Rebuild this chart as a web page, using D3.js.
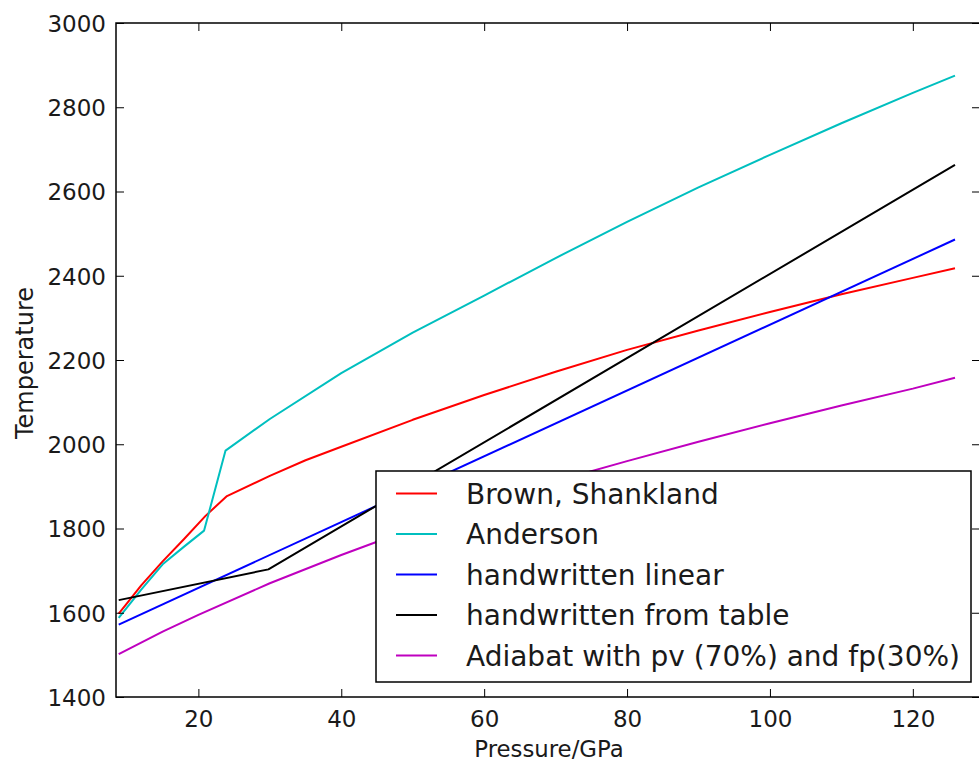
<!DOCTYPE html>
<html>
<head>
<meta charset="utf-8">
<script src="https://cdn.jsdelivr.net/npm/d3@7"></script>
<style>
  html, body { margin: 0; padding: 0; background: #fff; }
  svg { display: block; font-family: "DejaVu Sans", sans-serif; }
</style>
</head>
<body>
<svg id="chart" width="979" height="763"></svg>
<script>
// ---- data ----
const seriesNames = ["Brown, Shankland", "Anderson", "handwritten linear", "handwritten from table", "Adiabat with pv (70%) and fp(30%)"];
const seriesColors = ["#ff0000", "#00bfbf", "#0000ff", "#000000", "#bf00bf"];

const brownP = [8.85, 10, 12, 15, 18, 21, 24, 30, 35, 40, 50, 60, 70, 80, 90, 100, 110, 120, 125.9];
const brownT = [1598, 1622, 1665, 1722, 1775, 1830, 1877, 1925, 1962, 1994, 2058, 2117, 2172, 2224, 2270, 2314, 2356, 2395, 2418];

const andersonP = [8.85, 12, 15, 18, 20.8, 23.8, 30, 40, 50, 60, 70, 80, 90, 100, 110, 120, 125.9];
const andersonT = [1588, 1655, 1715, 1757, 1795, 1985, 2060, 2169, 2265, 2353, 2442, 2528, 2610, 2687, 2762, 2834, 2875];

const linearP = [8.85, 125.9];
const linearT = [1572, 2486];

const tableP = [8.85, 29.8, 125.9];
const tableT = [1630, 1703, 2663];

const adiabatP = [8.85, 15, 20, 30, 40, 50, 60, 70, 80, 90, 100, 110, 120, 125.9];
const adiabatT = [1502, 1555, 1595, 1670, 1737, 1800, 1858, 1912, 1960, 2006, 2050, 2092, 2132, 2158];

const xTicks = [20, 40, 60, 80, 100, 120];
const yTicks = [1400, 1600, 1800, 2000, 2200, 2400, 2600, 2800, 3000];
const xDomain = [8.47, 129.4];
const yDomain = [1400, 3000];
const xLabel = "Pressure/GPa";
const yLabel = "Temperature";

// ---- layout ----
const svg = d3.select("#chart");
const L = 116, R = 980, T = 23, B = 697;
const x = d3.scaleLinear().domain(xDomain).range([L, R]);
const y = d3.scaleLinear().domain(yDomain).range([B, T]);

svg.append("rect").attr("width", 979).attr("height", 763).attr("fill", "#fff");

const series = [
  { P: brownP, T: brownT },
  { P: andersonP, T: andersonT },
  { P: linearP, T: linearT },
  { P: tableP, T: tableT },
  { P: adiabatP, T: adiabatT }
];

svg.append("defs").append("clipPath").attr("id", "clip")
  .append("rect").attr("x", L).attr("y", T).attr("width", R - L).attr("height", B - T);

const line = d3.line().x(d => x(d[0])).y(d => y(d[1]));
const g = svg.append("g").attr("clip-path", "url(#clip)");
series.forEach((s, i) => {
  g.append("path")
    .datum(s.P.map((p, j) => [p, s.T[j]]))
    .attr("d", line)
    .attr("fill", "none")
    .attr("stroke", seriesColors[i])
    .attr("stroke-width", 2)
    .attr("stroke-linejoin", "round");
});

// axes (matplotlib classic: inward ticks on all sides)
const tickLen = 8;
const axB = svg.append("g").attr("transform", `translate(0,${B})`)
  .call(d3.axisBottom(x).tickValues(xTicks).tickSize(-tickLen).tickPadding(12).tickFormat(d3.format("d")));
const axT = svg.append("g").attr("transform", `translate(0,${T})`)
  .call(d3.axisTop(x).tickValues(xTicks).tickSize(-tickLen).tickFormat(""));
const axL = svg.append("g").attr("transform", `translate(${L},0)`)
  .call(d3.axisLeft(y).tickValues(yTicks).tickSize(-tickLen).tickPadding(10).tickFormat(d3.format("d")));
const axR = svg.append("g").attr("transform", `translate(${R},0)`)
  .call(d3.axisRight(y).tickValues(yTicks).tickSize(-tickLen).tickFormat(""));

[axB, axT, axL, axR].forEach(a => {
  a.select(".domain").remove();
  a.selectAll(".tick line").attr("stroke", "#000").attr("stroke-width", 1);
  a.selectAll(".tick text").attr("fill", "#1a1a1a").style("font-size", "23px").style("font-family", "DejaVu Sans");
});
axB.selectAll(".tick text").attr("dy", "0.78em");
axL.selectAll(".tick text").attr("dy", "0.36em");

// frame
svg.append("rect").attr("x", L).attr("y", T).attr("width", R - L).attr("height", B - T)
  .attr("fill", "none").attr("stroke", "#000").attr("stroke-width", 1.5);

// axis labels
svg.append("text").attr("x", 549).attr("y", 757)
  .attr("text-anchor", "middle").style("font-size", "22.8px").attr("fill", "#1a1a1a").text(xLabel);
svg.append("text").attr("transform", `translate(33,363) rotate(-90)`)
  .attr("text-anchor", "middle").style("font-size", "24px").attr("fill", "#1a1a1a").text(yLabel);

// legend
const lg = svg.append("g");
lg.append("rect").attr("x", 376).attr("y", 471).attr("width", 595).attr("height", 211)
  .attr("fill", "#fff").attr("stroke", "#000").attr("stroke-width", 1.5);
const rowY = d3.scalePoint().domain(d3.range(seriesNames.length)).range([493.5, 655.5]);
seriesNames.forEach((name, i) => {
  const yy = rowY(i);
  lg.append("line").attr("x1", 396).attr("x2", 437).attr("y1", yy).attr("y2", yy)
    .attr("stroke", seriesColors[i]).attr("stroke-width", 2);
  lg.append("text").attr("x", 466).attr("y", yy).attr("dy", "0.36em")
    .style("font-size", "28px").attr("fill", "#1a1a1a").text(name);
});
</script>
</body>
</html>
